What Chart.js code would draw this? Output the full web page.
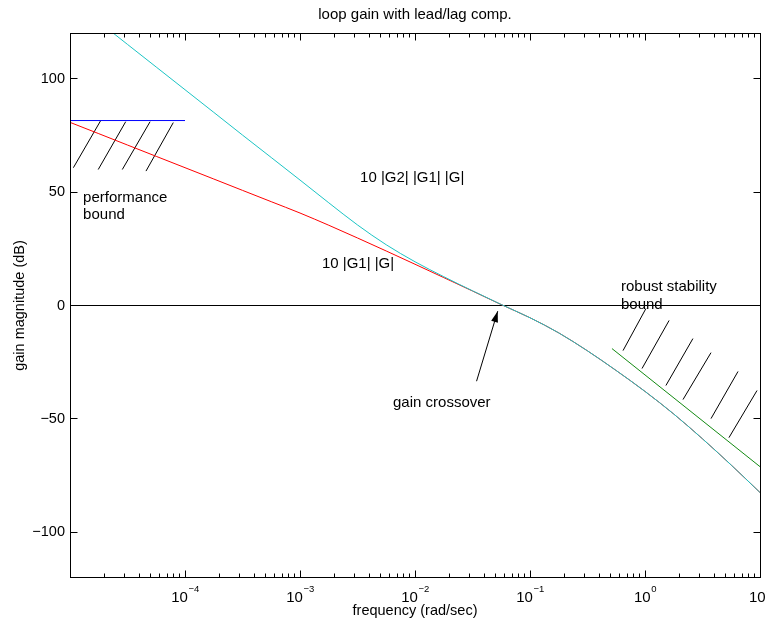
<!DOCTYPE html>
<html>
<head>
<meta charset="utf-8">
<script src="https://cdn.jsdelivr.net/npm/chart.js@4.4.1/dist/chart.umd.min.js"></script>
<style>
  html, body { margin: 0; padding: 0; background: #fff; }
  #wrap { width: 767px; height: 625px; }
</style>
</head>
<body>
<div id="wrap"><canvas id="loopChart" width="767" height="625"></canvas></div>
<script>
// frequency grid (rad/sec), quarter decades
const freq = [
  1e-5, 1.78e-5, 3.16e-5, 5.62e-5,
  1e-4, 1.78e-4, 3.16e-4, 5.62e-4,
  1e-3, 1.78e-3, 3.16e-3, 5.62e-3,
  1e-2, 1.78e-2, 3.16e-2, 5.62e-2,
  0.1, 0.178, 0.316, 0.562,
  1, 1.78, 3.16, 5.62, 10
];
// 10 |G1| |G|  (red)
const gainG1G = [
  80.8, 75.8, 70.8, 65.8,
  60.8, 55.8, 50.8, 45.8,
  40.8, 35.4, 29.8, 24.05,
  18.2, 12.3, 6.4, 0.4,
  -5.4, -12.1, -20.0, -28.7,
  -37.9, -47.9, -58.8, -70.4, -82.5
];
// 10 |G2| |G1| |G|  (cyan)
const gainG2G1G = [
  135.2, 125.2, 115.2, 105.2,
  95.2, 85.2, 75.2, 65.3,
  55.35, 45.3, 35.55, 26.8,
  19.3, 12.7, 6.5, 0.44,
  -5.4, -12.1, -20.0, -28.7,
  -37.9, -47.9, -58.8, -70.4, -82.5
];
const zeroFreq = [1e-5, 10];
const zeroGain = [0, 0];
// performance bound (blue) and its hatching
const perfFreq = [1e-5, 1e-4];
const perfGain = [81.6, 81.6];
const perfHatchFreq = [[1.07e-5, 1.85e-5], [1.76e-5, 3.05e-5], [2.85e-5, 4.97e-5], [4.58e-5, 7.91e-5]];
const perfHatchGain = [[60.8, 81.6], [60.0, 81.1], [60.0, 81.1], [59.3, 80.7]];
// robust stability bound (green) and its hatching
const robustFreq = [0.516, 10];
const robustGain = [-19.0, -71.1];
const robustHatchFreq = [[0.644, 1.02], [0.942, 1.62], [1.52, 2.61], [2.14, 3.75], [3.75, 6.44], [5.37, 9.42]];
const robustHatchGain = [[-19.9, -1.3], [-27.8, -6.6], [-35.3, -14.6], [-41.5, -20.8], [-49.9, -29.1], [-58.3, -37.5]];
// gain crossover arrow: tail, tip
const arrowFreq = [0.0343, 0.0524];
const arrowGain = [-33.4, -2.5];
// axis ticks
const xTickExps = [-4, -3, -2, -1, 0, 1];
const yTicks = [-100, -50, 0, 50, 100];

// text notes placed in data coordinates (left edge, middle)
const notes = [
  { text: '10 |G2| |G1| |G|', f: 3.33e-3, g: 56.5 },
  { text: '10 |G1| |G|', f: 1.55e-3, g: 18.5 },
  { text: 'performance', f: 1.30e-5, g: 47.7 },
  { text: 'bound', f: 1.30e-5, g: 40.2 },
  { text: 'gain crossover', f: 6.44e-3, g: -42.8 },
  { text: 'robust stability', f: 0.618, g: 8.4 },
  { text: 'bound', f: 0.618, g: 0.4 }
];

const FONT = '"Liberation Sans", Arial, Helvetica, sans-serif';
Chart.defaults.font.family = FONT;
Chart.defaults.font.size = 14.5;
Chart.defaults.color = '#000';

const toPoints = (xs, ys) => xs.map((x, i) => ({ x: x, y: ys[i] }));

// join short segments into one dataset, broken by null gaps
const segments = (xsList, ysList) => {
  const pts = [];
  xsList.forEach((xs, i) => {
    pts.push(...toPoints(xs, ysList[i]));
    pts.push({ x: xs[1], y: null });
  });
  return pts;
};

const line = (data, color, extra) => Object.assign({
  data: data,
  borderColor: color,
  borderWidth: 1,
  pointRadius: 0,
  fill: false,
  spanGaps: false
}, extra || {});

// frame, inward ticks, x tick labels with exponents, notes, arrow head
const decorPlugin = {
  id: 'decor',
  afterDraw(chart) {
    const { ctx, chartArea: a, scales: { x, y } } = chart;
    const L = Math.floor(a.left) + 0.5, R = Math.floor(a.right) + 0.5;
    const T = Math.floor(a.top) + 0.5, B = Math.floor(a.bottom) + 0.5;
    ctx.save();
    ctx.strokeStyle = '#000';
    ctx.lineWidth = 1;
    ctx.strokeRect(L, T, R - L, B - T);

    ctx.beginPath();
    for (let n = -5; n <= 1; n++) {
      for (let k = 1; k <= 9; k++) {
        const v = k * Math.pow(10, n);
        if (v < 1e-5 || v > 10.0001) continue;
        const px = Math.floor(x.getPixelForValue(v)) + 0.5;
        const len = k === 1 ? 7 : 4;
        ctx.moveTo(px, B); ctx.lineTo(px, B - len);
        ctx.moveTo(px, T); ctx.lineTo(px, T + len);
      }
    }
    yTicks.forEach(v => {
      const py = Math.floor(y.getPixelForValue(v)) + 0.5;
      ctx.moveTo(L, py); ctx.lineTo(L + 7, py);
      ctx.moveTo(R, py); ctx.lineTo(R - 7, py);
    });
    ctx.stroke();

    // x tick labels as 10 with superscript exponent
    ctx.fillStyle = '#000';
    ctx.textBaseline = 'alphabetic';
    ctx.textAlign = 'left';
    xTickExps.forEach(e => {
      const px = x.getPixelForValue(Math.pow(10, e));
      const base = '10';
      const exp = e < 0 ? '\u2212' + (-e) : String(e);
      ctx.font = '15px ' + FONT;
      const wb = ctx.measureText(base).width;
      ctx.font = '9.5px ' + FONT;
      const we = ctx.measureText(exp).width;
      const x0 = px - (wb + we) / 2;
      ctx.font = '15px ' + FONT;
      ctx.fillText(base, x0, 601.5);
      ctx.font = '9.5px ' + FONT;
      ctx.fillText(exp, x0 + wb + 0.5, 592);
    });

    // annotations
    ctx.font = '15px ' + FONT;
    ctx.textBaseline = 'middle';
    notes.forEach(n => {
      ctx.fillText(n.text, x.getPixelForValue(n.f), y.getPixelForValue(n.g));
    });

    // arrow head at the tip of the crossover arrow
    const tx = x.getPixelForValue(arrowFreq[1]), ty = y.getPixelForValue(arrowGain[1]);
    const sx = x.getPixelForValue(arrowFreq[0]), sy = y.getPixelForValue(arrowGain[0]);
    const ang = Math.atan2(ty - sy, tx - sx);
    const len = 11, half = 3.5;
    const bx = tx - len * Math.cos(ang), by = ty - len * Math.sin(ang);
    ctx.beginPath();
    ctx.moveTo(tx, ty);
    ctx.lineTo(bx + half * Math.sin(ang), by - half * Math.cos(ang));
    ctx.lineTo(bx - half * Math.sin(ang), by + half * Math.cos(ang));
    ctx.closePath();
    ctx.fill();
    ctx.restore();
  }
};

new Chart(document.getElementById('loopChart'), {
  type: 'line',
  data: {
    datasets: [
      line(toPoints(freq, gainG2G1G), '#1cc4c4', { cubicInterpolationMode: 'monotone' }),
      line(toPoints(freq, gainG1G), '#ff0000', { cubicInterpolationMode: 'monotone' }),
      line(toPoints(perfFreq, perfGain), '#0000ff'),
      line(toPoints(robustFreq, robustGain), '#138a13'),
      line(segments(perfHatchFreq, perfHatchGain), '#000000'),
      line(segments(robustHatchFreq, robustHatchGain), '#000000'),
      line(toPoints(arrowFreq, arrowGain), '#000000'),
      line(toPoints(zeroFreq, zeroGain), '#000000')
    ]
  },
  options: {
    responsive: false,
    animation: false,
    devicePixelRatio: 1,
    layout: { padding: { left: 0, right: 7, top: 0, bottom: 0 } },
    plugins: {
      legend: { display: false },
      tooltip: { enabled: false },
      title: {
        display: true,
        fullSize: false,
        text: 'loop gain with lead/lag comp.',
        color: '#000',
        font: { size: 15, weight: 'normal' },
        padding: { top: 6, bottom: 9.5 }
      }
    },
    scales: {
      x: {
        type: 'logarithmic',
        min: 1e-5,
        max: 10,
        grid: { display: false, drawTicks: false },
        border: { display: false },
        ticks: { display: false },
        title: { display: true, text: 'frequency (rad/sec)', padding: { top: 0, bottom: 5 } },
        afterFit: s => { s.height = 47.5; }
      },
      y: {
        type: 'linear',
        min: -120,
        max: 120,
        afterBuildTicks: s => { s.ticks = yTicks.map(v => ({ value: v })); },
        grid: { display: false, drawTicks: false },
        border: { display: false },
        ticks: { padding: 5, callback: v => String(v).replace('-', '\u2212') },
        title: { display: true, text: 'gain magnitude (dB)', padding: { top: 11, bottom: 0 } },
        afterFit: s => { s.width = 70; }
      }
    }
  },
  plugins: [decorPlugin]
});
</script>
</body>
</html>
